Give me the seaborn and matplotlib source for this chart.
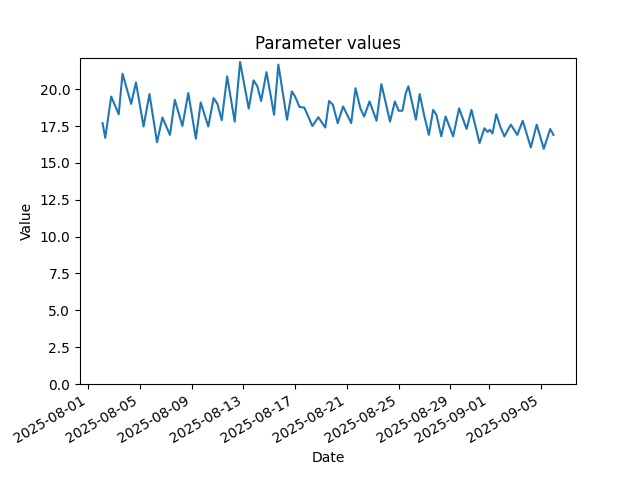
import numpy as np
import pandas as pd
import seaborn as sns
import matplotlib
matplotlib.use("Agg")
import matplotlib.pyplot as plt

# readings taken from the chart: hours after 2025-08-01 00:00 and value
hours = [27, 32, 43, 57, 64, 80, 89, 103, 114, 128,
         138, 152, 161, 175, 186, 200, 209, 223, 233, 240,
         248, 258, 272, 282, 298, 307, 314, 321, 331, 345,
         353, 369, 378, 384, 392, 401, 407, 416, 427, 440,
         447, 454, 463, 473, 488, 496, 505, 512, 522, 535,
         544, 560, 569, 576, 583, 589, 594, 599, 608, 615,
         623, 632, 640, 646, 655, 663, 677, 688, 702, 711,
         726, 735, 741, 745, 750, 757, 764, 772, 784, 796,
         806, 821, 832, 845, 857, 863]
values = [17.7, 16.7, 19.5, 18.3, 21.05, 19.0, 20.46, 17.47, 19.67, 16.4,
          18.08, 16.9, 19.28, 17.5, 19.74, 16.64, 19.1, 17.47, 19.4, 19.0,
          17.9, 20.87, 17.8, 21.85, 18.68, 20.6, 20.2, 19.2, 21.16, 18.27,
          21.67, 17.93, 19.85, 19.5, 18.8, 18.75, 18.27, 17.5, 18.1, 17.4,
          19.2, 18.95, 17.7, 18.83, 17.7, 20.07, 18.7, 18.15, 19.17, 17.86,
          20.35, 17.8, 19.17, 18.54, 18.54, 19.7, 20.2, 19.4, 17.93, 19.67,
          18.27, 16.9, 18.6, 18.27, 16.8, 18.15, 16.8, 18.7, 17.3, 18.6,
          16.34, 17.35, 17.1, 17.25, 17.0, 18.3, 17.5, 16.8, 17.6, 16.9,
          17.86, 16.05, 17.6, 15.96, 17.3, 16.9]

df = pd.DataFrame({
    "Date": pd.Timestamp("2025-08-01") + pd.to_timedelta(hours, unit="h"),
    "Value": values,
})

fig, ax = plt.subplots(figsize=(6.4, 4.8), dpi=100)
sns.lineplot(data=df, x="Date", y="Value", ax=ax, color="C0", linewidth=1.5)
ax.set_ylim(bottom=0)
ax.set_title("Parameter values")
ax.set_xlabel("Date")
ax.set_ylabel("Value")
fig.autofmt_xdate()
fig.savefig("out.png")
